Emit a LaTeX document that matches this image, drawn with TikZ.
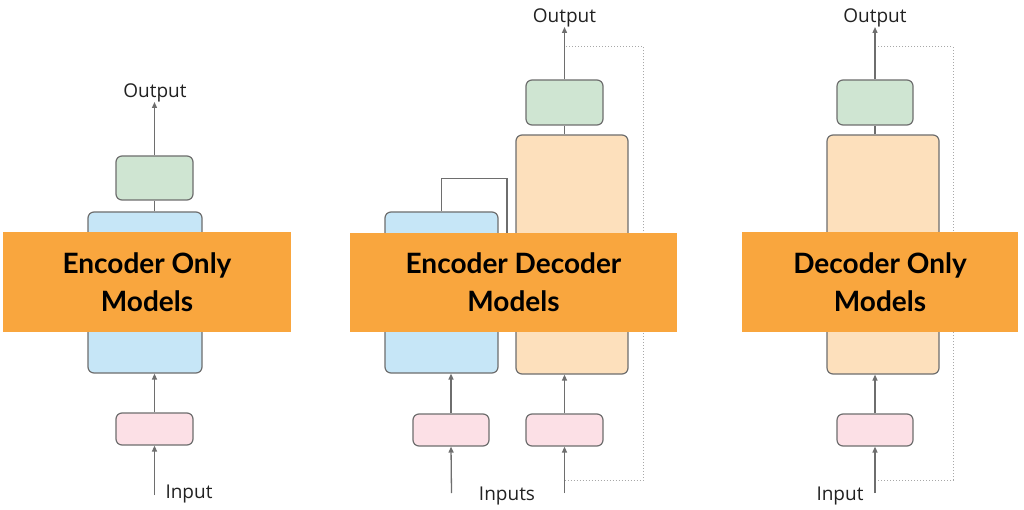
\documentclass[tikz,border=0pt]{standalone}
\usepackage{fontspec}
\setmainfont{Open Sans}
\newfontfamily\latofont{Lato}
\usetikzlibrary{arrows.meta}
\definecolor{linec}{HTML}{6E6E6E}
\definecolor{dotc}{HTML}{A8A8A8}
\definecolor{bluec}{HTML}{C6E6F7}
\definecolor{peachc}{HTML}{FDE0BC}
\definecolor{greenc}{HTML}{CFE5D2}
\definecolor{pinkc}{HTML}{FCE0E6}
\definecolor{orangec}{HTML}{F9A63E}
\definecolor{textc}{HTML}{222222}
\tikzset{
  blk/.style={draw=linec, line width=1.2pt, rounded corners=6pt, inner sep=0pt},
  conn/.style={draw=linec, line width=1.3pt, -{Triangle[length=6pt,width=5pt]}},
  plainline/.style={draw=linec, line width=1.3pt},
  loopline/.style={draw=dotc, line width=1pt, dash pattern=on 1pt off 2pt},
  banner/.style={fill=orangec, draw=none, inner sep=0pt},
  bantext/.style={font=\latofont\bfseries\fontsize{28}{38}\selectfont, align=center, text=black, inner sep=0pt},
  lbl/.style={font=\fontsize{19}{22}\selectfont, text=textc, inner sep=0pt, anchor=base},
}
\begin{document}
\begin{tikzpicture}[x=1pt,y=-1pt]
\fill[white] (0,0) rectangle (1024,510);
\useasboundingbox (0,0) rectangle (1024,510);

% ---------------- Left: Encoder only
\node[blk, fill=greenc, minimum width=77pt, minimum height=44pt] (Lgreen) at (154.5,178) {};
\node[blk, fill=bluec, minimum width=114pt, minimum height=161pt] (Lblue) at (145,292.5) {};
\node[blk, fill=pinkc, minimum width=77pt, minimum height=32pt] (Lpink) at (154.5,429) {};
\node[lbl] (Lout) at (155,98) {Output};
\node[lbl] (Lin) at (189,498) {Input};
\coordinate (Lstart) at (154.5,495);
\coordinate (Ltip) at (154.5,102);
\draw[conn] (Lstart) -- (Lpink.south);
\draw[conn] (Lpink.north) -- (Lpink.north |- Lblue.south);
\draw[plainline] (Lgreen.south |- Lblue.north) -- (Lgreen.south);
\draw[conn] (Lgreen.north) -- (Ltip);

% ---------------- Middle: Encoder-Decoder
\node[blk, fill=bluec, minimum width=113pt, minimum height=161pt] (Mblue) at (441.5,292.5) {};
\node[blk, fill=peachc, minimum width=112pt, minimum height=239pt] (Mpeach) at (572,254.5) {};
\node[blk, fill=greenc, minimum width=77pt, minimum height=45pt] (Mgreen) at (564.5,102.5) {};
\node[blk, fill=pinkc, minimum width=76pt, minimum height=32pt] (Mpink1) at (451,430) {};
\node[blk, fill=pinkc, minimum width=77pt, minimum height=32pt] (Mpink2) at (564.5,430) {};
\node[lbl] (Mout) at (564.5,23) {Output};
\node[lbl] (Min) at (507,500) {Inputs};
\coordinate (Ms1) at (451.5,493);
\coordinate (Ms2) at (564.5,493);
\coordinate (Mtip) at (564.5,27);
\coordinate (Mloopb) at (564.5,480);
\coordinate (Mloopt) at (564.5,47);
\draw[loopline] (Mloopb) -- ++(78.5,0) |- (Mloopt);
\draw[conn] (Ms1) -- (Mpink1.south);
\draw[conn] (Ms2) -- (Mpink2.south);
\draw[conn] (Mpink1.north) -- (Mpink1.north |- Mblue.south);
\draw[conn] (Mpink2.north) -- (Mpink2.north |- Mpeach.south);
\draw[plainline] (Mgreen.south |- Mpeach.north) -- (Mgreen.south);
\draw[conn] (Mgreen.north) -- (Mtip);
\draw[plainline] (Mblue.north) -- ++(0,-33) -| (507,290) -- (Mpeach.west |- 0,290);

% ---------------- Right: Decoder only
\node[blk, fill=peachc, minimum width=112pt, minimum height=239pt] (Rpeach) at (883,254.5) {};
\node[blk, fill=greenc, minimum width=76pt, minimum height=45pt] (Rgreen) at (875,102.5) {};
\node[blk, fill=pinkc, minimum width=76pt, minimum height=32pt] (Rpink) at (875,430) {};
\node[lbl] (Rout) at (875,23) {Output};
\node[lbl] (Rin) at (840,500) {Input};
\coordinate (Rs) at (875,493);
\coordinate (Rtip) at (875,27);
\coordinate (Rloopb) at (875,480);
\coordinate (Rloopt) at (875,47);
\draw[loopline] (Rloopb) -- ++(78,0) |- (Rloopt);
\draw[conn] (Rs) -- (Rpink.south);
\draw[conn] (Rpink.north) -- (Rpink.north |- Rpeach.south);
\draw[plainline] (Rgreen.south |- Rpeach.north) -- (Rgreen.south);
\draw[conn] (Rgreen.north) -- (Rtip);

% ---------------- Banners
\node[banner, minimum width=288pt, minimum height=100pt] (Lban) at (147,282) {};
\node[banner, minimum width=327pt, minimum height=99pt] (Mban) at (513.5,282.5) {};
\node[banner, minimum width=276pt, minimum height=100pt] (Rban) at (880,282) {};
\node[bantext] at (Lban.center) {Encoder Only\\Models};
\node[bantext] at (Mban.center) {Encoder Decoder\\Models};
\node[bantext] at (Rban.center) {Decoder Only\\Models};
\end{tikzpicture}
\end{document}
